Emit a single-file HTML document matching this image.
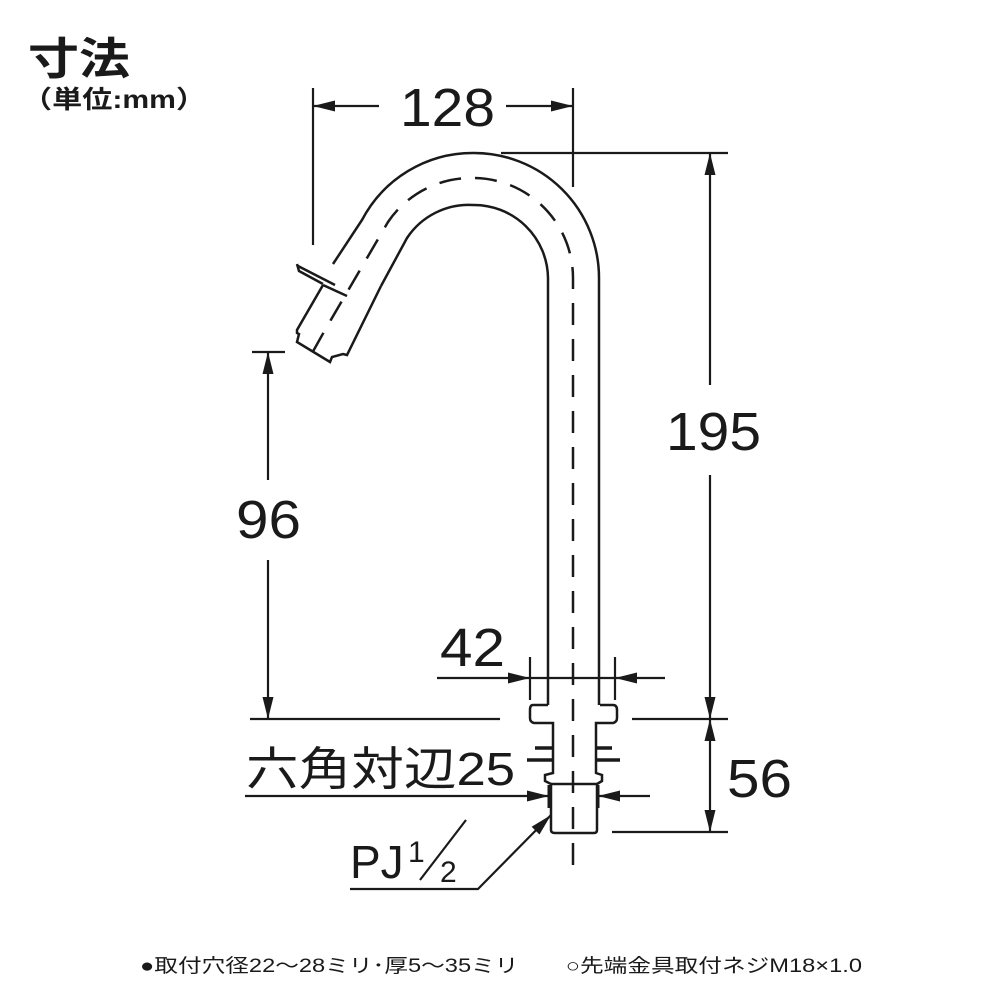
<!DOCTYPE html>
<html><head><meta charset="utf-8"><style>
html,body{margin:0;padding:0;background:#fff;}
svg{display:block}
text{font-family:"Liberation Sans","Noto Sans CJK JP",sans-serif;fill:#1a1a1a}
</style></head><body>
<svg width="1000" height="1000" viewBox="0 0 1000 1000" xmlns="http://www.w3.org/2000/svg">
<defs>
<marker id="b" viewBox="0 0 20 10" refX="20" refY="5" markerWidth="22" markerHeight="11" orient="auto-start-reverse" markerUnits="userSpaceOnUse"><path d="M0,0 L20,5 L0,10 Z" fill="#1a1a1a"/></marker>
</defs>
<text x="28" y="74" font-size="44" font-weight="bold" textLength="102" lengthAdjust="spacingAndGlyphs">寸法</text>
<text x="22" y="108" font-size="25" font-weight="bold" textLength="184" lengthAdjust="spacingAndGlyphs">（単位:mm）</text>

<g stroke="#1a1a1a" stroke-width="2.5" fill="none">
<path d="M599,705 L599,278 A125,125 0 0 0 473,153 A125,125 0 0 0 362,220 L333,264"/>
<path d="M548,705 L548,278 A74,74 0 0 0 473,205 A74,74 0 0 0 407,238 L381,286"/>
<path d="M323,285 L297,330 L297,333 L299,334 L297,342 L330,362 L332,357 L343,354 L347,355 L381,286"/>
<path d="M323,285 L347,296"/>
<path d="M297,264 L299,271 L323,284 M298,266 L335,285"/>
<path stroke-dasharray="22,14" d="M573,865 L573,278 A100,100 0 0 0 473,178 A100,100 0 0 0 388,222 L325,330 L311,355"/>
<path d="M548,705 L533,705 Q530,705 530,710 L530,718 Q530,722 534,723 L553,723 L553,773 L545,775 L545,781 L551,784 L551,830 Q551,833 555,833 L594,833 Q597,833 597,830 L597,784 L602,781 L602,775 L596,773 L596,723 L613,723 Q617,722 617,718 L617,710 Q617,705 613,705 L600,705"/>
<path d="M551,784 L597,784"/>
<path stroke-width="3.5" d="M535,748 L553,748 M527,760 L553,760 M596,748 L612,748 M596,760 L620,760"/>
</g>

<g stroke="#1a1a1a" stroke-width="2.2" fill="none">
<path d="M313,88 L313,245 M573,88 L573,187"/>
<path d="M379,106 L313,106" marker-end="url(#b)"/>
<path d="M506,106 L573,106" marker-end="url(#b)"/>
<path d="M501,153 L728,153 M632,719 L728,719 M612,832 L728,832"/>
<path d="M710,385 L710,153" marker-end="url(#b)"/>
<path d="M710,475 L710,719" marker-end="url(#b)"/>
<path d="M710,719 L710,832" marker-start="url(#b)" marker-end="url(#b)"/>
<path d="M252,352 L285,352 M250,719 L500,719"/>
<path d="M268,480 L268,352" marker-end="url(#b)"/>
<path d="M268,560 L268,719" marker-end="url(#b)"/>
<path d="M530,657 L530,700 M615,657 L615,700"/>
<path d="M437,678 L530,678" marker-end="url(#b)"/>
<path d="M665,678 L615,678" marker-end="url(#b)"/>
<path d="M530,678 L615,678"/>
<path stroke-width="3" d="M549,785 L549,808 M598,785 L598,808"/>
<path d="M245,796 L549,796" marker-end="url(#b)"/>
<path d="M650,796 L598,796" marker-end="url(#b)"/>
<path d="M350,889 L478,889 L551,815" marker-end="url(#b)"/>
<path d="M420,880 L466,820"/>
</g>

<g font-size="54">
<text x="400" y="126" textLength="95" lengthAdjust="spacingAndGlyphs">128</text>
<text x="666" y="450" textLength="95" lengthAdjust="spacingAndGlyphs">195</text>
<text x="236" y="538" textLength="65" lengthAdjust="spacingAndGlyphs">96</text>
<text x="440" y="666" textLength="65" lengthAdjust="spacingAndGlyphs">42</text>
<text x="727" y="797" textLength="65" lengthAdjust="spacingAndGlyphs">56</text>
<text x="246" y="785" font-size="46" textLength="269" lengthAdjust="spacingAndGlyphs">六角対辺25</text>
<text x="350" y="878" font-size="46">PJ</text>
<text x="408" y="862" font-size="30">1</text>
<text x="440" y="882" font-size="30">2</text>
</g>
<text x="140" y="972" font-size="19" textLength="722" lengthAdjust="spacingAndGlyphs">●取付穴径22～28ミリ･厚5～35ミリ　　○先端金具取付ネジM18×1.0</text>
</svg>
</body></html>
